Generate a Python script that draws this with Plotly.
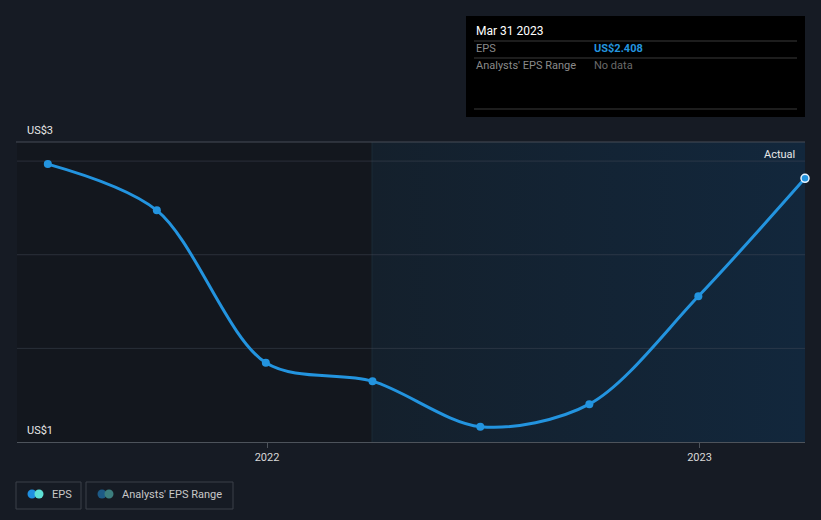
import plotly.graph_objects as go

# ---- data ----
dates = ["2021-06-30", "2021-09-30", "2021-12-31", "2022-03-31",
         "2022-06-30", "2022-09-30", "2022-12-31", "2023-03-31"]
eps = [2.484, 2.237, 1.423, 1.325, 1.082, 1.202, 1.778, 2.408]
tick_vals = ["2022-01-01", "2023-01-01"]
tick_text = ["2022", "2023"]
forecast_start = "2022-03-31"
x_range = ["2021-06-04", "2023-03-31"]
y_range = [1.0, 2.602]
grid_vals = [1.5, 2.0, 2.5]

W, H = 821, 520
L, R, T, B = 17, 16, 142, 78
PW, PH = W - L - R, H - T - B

def px(x):
    return (x - L) / PW

def py(y):
    return (H - B - y) / PH

BG = "#161b24"
BLUE = "#2394df"
FONT = "Roboto, Arial, sans-serif"

fig = go.Figure()

# shaded "actual" region with horizontal gradient
fig.add_trace(go.Scatter(
    x=[forecast_start, x_range[1], x_range[1], forecast_start, forecast_start],
    y=[y_range[0], y_range[0], y_range[1], y_range[1], y_range[0]],
    mode="lines", line=dict(width=0), fill="toself",
    fillgradient=dict(type="horizontal",
                      colorscale=[[0, "#14202c"], [1, "#12273c"]]),
    hoverinfo="skip", showlegend=False))

# grid lines (drawn above the shaded region, below the data line)
for g in grid_vals:
    fig.add_trace(go.Scatter(
        x=x_range, y=[g, g], mode="lines",
        line=dict(color="rgba(70,78,90,0.45)", width=1),
        hoverinfo="skip", showlegend=False))

# EPS line
fig.add_trace(go.Scatter(
    x=dates, y=eps, mode="lines+markers",
    line=dict(color=BLUE, width=3, shape="spline", smoothing=0.9),
    marker=dict(size=8, color=BLUE,
                line=dict(color=[BLUE] * (len(eps) - 1) + ["#e8f4ff"],
                          width=[0] * (len(eps) - 1) + [1.5])),
    hoverinfo="skip", showlegend=False, cliponaxis=False))

shapes = []
# darker past region
shapes.append(dict(type="rect", xref="x", yref="paper", x0=x_range[0], x1=forecast_start,
                   y0=0, y1=1, fillcolor="#13171e", line=dict(width=0), layer="below"))
# separator line
shapes.append(dict(type="line", xref="x", yref="paper", x0=forecast_start, x1=forecast_start,
                   y0=0, y1=1, line=dict(color="#1a2a36", width=2), layer="below"))
# top line
shapes.append(dict(type="line", xref="paper", yref="paper", x0=px(16), x1=1, y0=1, y1=1,
                   line=dict(color="#474d56", width=1)))

# tooltip box
shapes.append(dict(type="rect", xref="paper", yref="paper", x0=px(466), x1=px(805),
                   y0=py(117), y1=py(16), fillcolor="#000000", line=dict(width=0)))
for yy in [41, 58, 109]:
    shapes.append(dict(type="line", xref="paper", yref="paper", x0=px(474), x1=px(797),
                       y0=py(yy), y1=py(yy), line=dict(color="#3a3a3a", width=1)))

# legend boxes
for x0, x1 in [(16, 81), (86, 233)]:
    shapes.append(dict(type="rect", xref="paper", yref="paper", x0=px(x0), x1=px(x1),
                       y0=py(509), y1=py(482), line=dict(color="#3a4049", width=1),
                       fillcolor="rgba(0,0,0,0)"))
# legend icons (two overlapping dots each)
r = 4.5
for cx, col in [(32, "#1f8fe0"), (39, "#5ee0d5"), (102, "#1d5a86"), (109, "#3c7e7e")]:
    shapes.append(dict(type="circle", xref="paper", yref="paper",
                       x0=px(cx - r), x1=px(cx + r), y0=py(494 + r), y1=py(494 - r),
                       fillcolor=col, line=dict(width=0)))

annotations = [
    dict(text="US$3", x=px(25), y=py(130), xanchor="left", yanchor="middle",
         font=dict(size=11, color="#e8e8e8")),
    dict(text="US$1", x=px(25), y=py(430), xanchor="left", yanchor="middle",
         font=dict(size=11, color="#e8e8e8")),
    dict(text="Actual", x=px(797), y=py(154), xanchor="right", yanchor="middle",
         font=dict(size=11, color="#e8e8e8")),
    dict(text="Mar 31 2023", x=px(474), y=py(31), xanchor="left", yanchor="middle",
         font=dict(size=12, color="#ffffff")),
    dict(text="EPS", x=px(474), y=py(49), xanchor="left", yanchor="middle",
         font=dict(size=11, color="#8a8a8a")),
    dict(text="<b>US$2.408</b>", x=px(592), y=py(49), xanchor="left", yanchor="middle",
         font=dict(size=11, color=BLUE)),
    dict(text="Analysts' EPS Range", x=px(474), y=py(66), xanchor="left", yanchor="middle",
         font=dict(size=11, color="#8a8a8a")),
    dict(text="No data", x=px(592), y=py(66), xanchor="left", yanchor="middle",
         font=dict(size=11, color="#6a6a6a")),
    dict(text="EPS", x=px(50), y=py(494), xanchor="left", yanchor="middle",
         font=dict(size=11, color="#c8c8c8")),
    dict(text="Analysts' EPS Range", x=px(120), y=py(494), xanchor="left", yanchor="middle",
         font=dict(size=11, color="#c8c8c8")),
]
for a in annotations:
    a.update(xref="paper", yref="paper", showarrow=False)

fig.update_layout(
    width=W, height=H,
    margin=dict(l=L, r=R, t=T, b=B),
    paper_bgcolor=BG, plot_bgcolor=BG,
    font=dict(family=FONT),
    showlegend=False,
    shapes=shapes, annotations=annotations,
    xaxis=dict(type="date", range=x_range, tickvals=tick_vals, ticktext=tick_text,
               showgrid=False, zeroline=False, showline=True, linecolor="#4d535b",
               linewidth=1, ticks="outside", ticklen=5, tickcolor="#4d535b",
               tickfont=dict(size=11, color="#d8d8d8", family=FONT), fixedrange=True),
    yaxis=dict(range=y_range, showgrid=False, zeroline=False, showticklabels=False,
               showline=False, fixedrange=True),
)

fig.write_html("out.html")
